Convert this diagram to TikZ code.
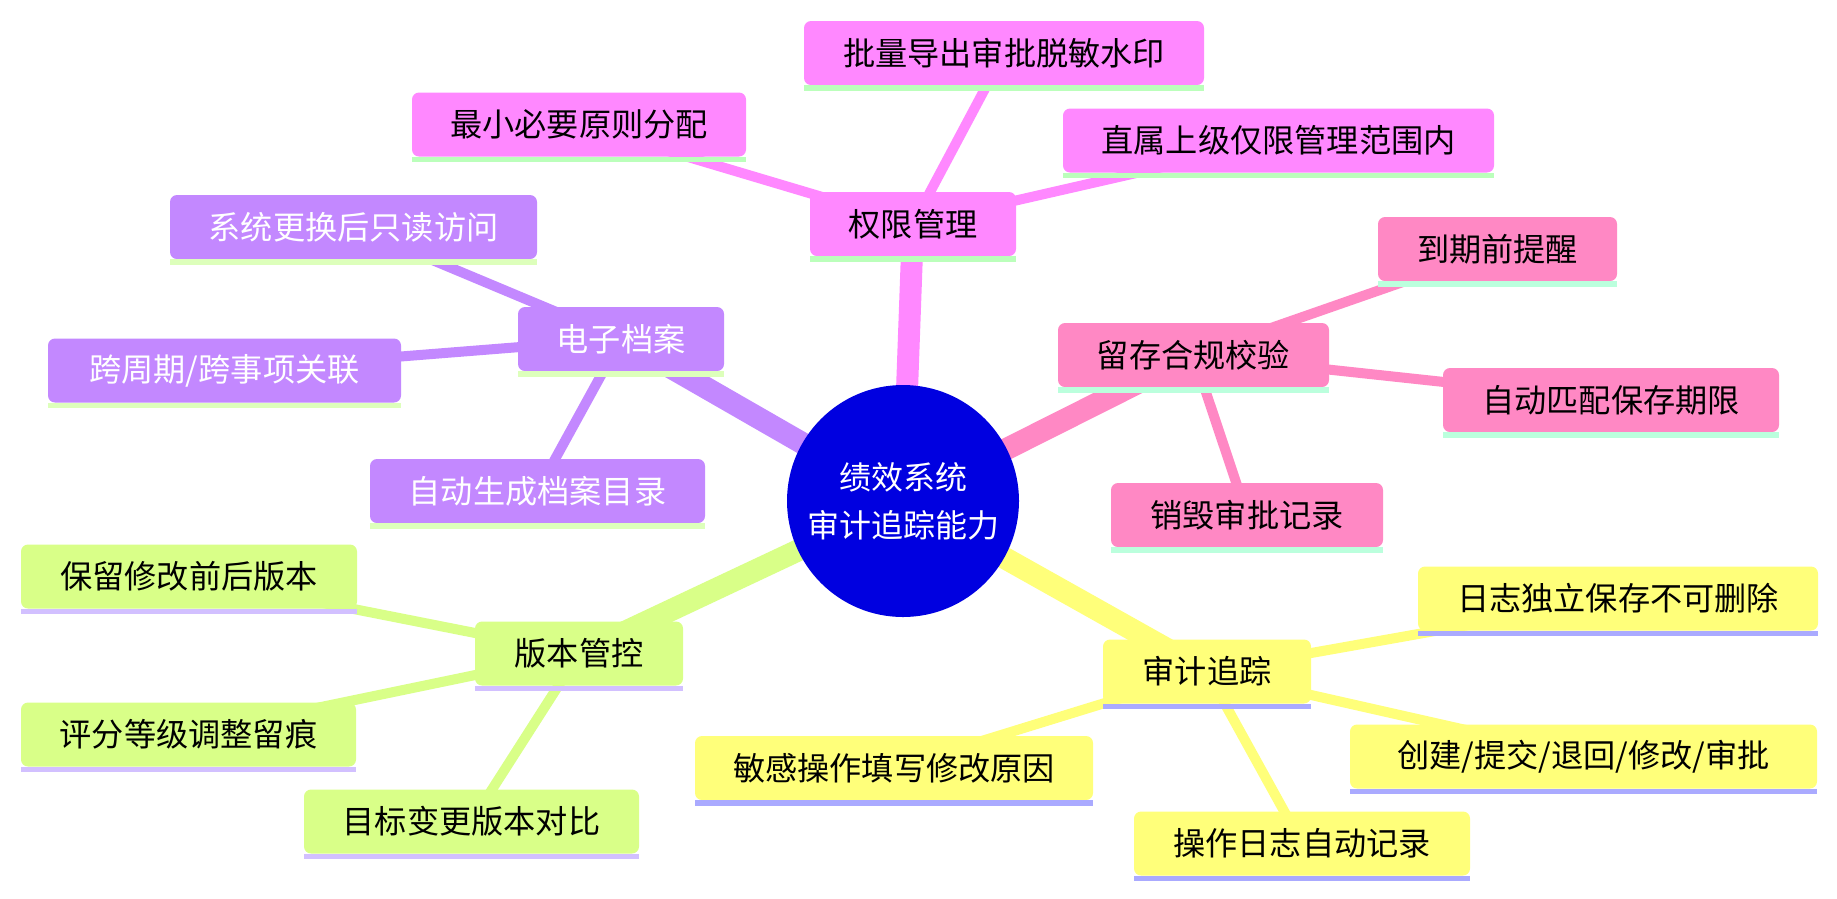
\documentclass[tikz,border=0pt]{standalone}
\usepackage{fontspec}
\setmainfont{Noto Sans CJK SC}
\usetikzlibrary{backgrounds}
\definecolor{cMag}{HTML}{FF88FF}
\definecolor{uMag}{HTML}{BBFFBB}
\definecolor{cRose}{HTML}{FF88C4}
\definecolor{uRose}{HTML}{BBFFDD}
\definecolor{cPur}{HTML}{C388FF}
\definecolor{uPur}{HTML}{DDFFBB}
\definecolor{cGrn}{HTML}{D9FF88}
\definecolor{uGrn}{HTML}{D2C0FF}
\definecolor{cYel}{HTML}{FFFF7A}
\definecolor{uYel}{HTML}{AAAAFF}
\definecolor{cRoot}{HTML}{0000E0}
\tikzset{
  box/.style={rounded corners=7pt, inner xsep=8pt, inner ysep=0pt,
    minimum height=64pt, font=\fontsize{32.2}{38}\selectfont, text=black},
  rootnode/.style={circle, fill=cRoot, minimum size=232pt, inner sep=0pt,
    text=white, align=center, font=\fontsize{32}{48}\selectfont},
  mainline/.style={line width=22pt},
  subline/.style={line width=10pt},
}
\newcommand{\ulbar}[2]{\fill[#2] (#1.south west) rectangle ([yshift=-5.5pt]#1.south east);}
\begin{document}
\begin{tikzpicture}[x=1pt,y=-1pt]
\useasboundingbox (0,0) rectangle (1837,898);

\node[rootnode] (root) at (903,501) {绩效系统\\审计追踪能力};

% magenta group
\node[box,fill=cMag,minimum width=206pt] (qx) at (913,224) {权限管理};
\node[box,fill=cMag,minimum width=400pt] (qx1) at (1004,53) {批量导出审批脱敏水印};
\node[box,fill=cMag,minimum width=334pt] (qx2) at (579,124.5) {最小必要原则分配};
\node[box,fill=cMag,minimum width=431pt] (qx3) at (1278.5,140.5) {直属上级仅限管理范围内};
\ulbar{qx}{uMag}\ulbar{qx1}{uMag}\ulbar{qx2}{uMag}\ulbar{qx3}{uMag}

% rose group
\node[box,fill=cRose,minimum width=271pt] (lc) at (1193.5,355) {留存合规校验};
\node[box,fill=cRose,minimum width=239pt] (lc1) at (1497.5,249) {到期前提醒};
\node[box,fill=cRose,minimum width=336pt] (lc2) at (1611,400) {自动匹配保存期限};
\node[box,fill=cRose,minimum width=272pt] (lc3) at (1247,515) {销毁审批记录};
\ulbar{lc}{uRose}\ulbar{lc1}{uRose}\ulbar{lc2}{uRose}\ulbar{lc3}{uRose}

% purple group
\node[box,fill=cPur,text=white,minimum width=206pt] (da) at (621,339) {电子档案};
\node[box,fill=cPur,text=white,minimum width=367pt] (da1) at (353.5,227) {系统更换后只读访问};
\node[box,fill=cPur,text=white,minimum width=353pt] (da2) at (224.5,370.5) {跨周期/跨事项关联};
\node[box,fill=cPur,text=white,minimum width=335pt] (da3) at (537.5,491) {自动生成档案目录};
\ulbar{da}{uPur}\ulbar{da1}{uPur}\ulbar{da2}{uPur}\ulbar{da3}{uPur}

% green group
\node[box,fill=cGrn,minimum width=208pt] (bb) at (579,653.5) {版本管控};
\node[box,fill=cGrn,minimum width=336pt] (bb1) at (189,576.5) {保留修改前后版本};
\node[box,fill=cGrn,minimum width=335pt] (bb2) at (188.5,734.5) {评分等级调整留痕};
\node[box,fill=cGrn,minimum width=335pt] (bb3) at (471.5,821.5) {目标变更版本对比};
\ulbar{bb}{uGrn}\ulbar{bb1}{uGrn}\ulbar{bb2}{uGrn}\ulbar{bb3}{uGrn}

% yellow group
\node[box,fill=cYel,minimum width=208pt] (sj) at (1207,671.5) {审计追踪};
\node[box,fill=cYel,minimum width=400pt] (sj1) at (1618,598.5) {日志独立保存不可删除};
\node[box,fill=cYel,minimum width=467pt] (sj2) at (1583.5,756.5) {创建/提交/退回/修改/审批};
\node[box,fill=cYel,minimum width=336pt] (sj3) at (1302,843.5) {操作日志自动记录};
\node[box,fill=cYel,minimum width=398pt] (sj4) at (894,768) {敏感操作填写修改原因};
\ulbar{sj}{uYel}\ulbar{sj1}{uYel}\ulbar{sj2}{uYel}\ulbar{sj3}{uYel}\ulbar{sj4}{uYel}

\begin{pgfonlayer}{background}
\fill[white] (0,0) rectangle (1837,898);
\draw[mainline,cMag] (root.center) -- (qx.center);
\draw[mainline,cRose] (root.center) -- (lc.center);
\draw[mainline,cPur] (root.center) -- (da.center);
\draw[mainline,cGrn] (root.center) -- (bb.center);
\draw[mainline,cYel] (root.center) -- (sj.center);
\foreach \c in {qx1,qx2,qx3} \draw[subline,cMag] (qx.center) -- (\c.center);
\foreach \c in {lc1,lc2,lc3} \draw[subline,cRose] (lc.center) -- (\c.center);
\foreach \c in {da1,da2,da3} \draw[subline,cPur] (da.center) -- (\c.center);
\foreach \c in {bb1,bb2,bb3} \draw[subline,cGrn] (bb.center) -- (\c.center);
\foreach \c in {sj1,sj2,sj3,sj4} \draw[subline,cYel] (sj.center) -- (\c.center);
\end{pgfonlayer}
\end{tikzpicture}
\end{document}
